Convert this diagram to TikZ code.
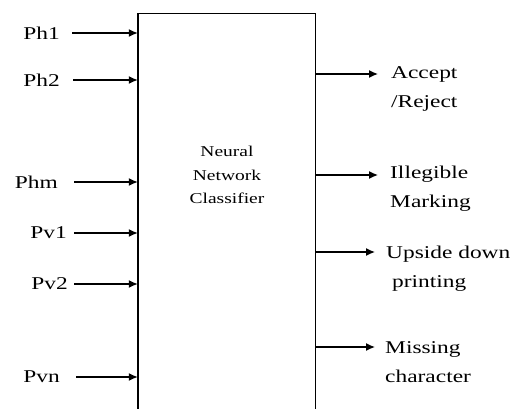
\documentclass[tikz,border=0pt]{standalone}
\usepackage{fontspec}
\setmainfont{Liberation Serif}[FakeStretch=1.3]
\usetikzlibrary{arrows.meta}
\begin{document}
\begin{tikzpicture}[x=1pt,y=-1pt,
  lab/.style={inner sep=0pt,font=\fontsize{18}{29}\selectfont},
  outlab/.style={lab,anchor=west,align=left},
  arr/.style={line width=1.3pt,-{Latex[length=9pt,width=8pt]}},
  boxline/.style={line width=1.4pt}]
\useasboundingbox (0,0) rectangle (522,409);
% classifier box (open at the bottom, cut by the picture edge)
\node[minimum width=177pt,minimum height=400pt,inner sep=0pt] (nn) at (226.5,214) {};
\draw[boxline] (nn.south west) -- (nn.north west) -- (nn.north east) -- (nn.south east);
\node[inner sep=0pt,align=center,font=\fontsize{15}{23.5}\selectfont] (nntext) at (227,175) {Neural\\Network\\Classifier};
% inputs
\node[lab,anchor=east] (ph1) at (60,33) {Ph1};
\node[lab,anchor=east] (ph2) at (60,80) {Ph2};
\node[lab,anchor=east] (phm) at (58,182) {Phm};
\node[lab,anchor=east] (pv1) at (67,233) {Pv1};
\node[lab,anchor=east] (pv2) at (68,284) {Pv2};
\node[lab,anchor=east] (pvn) at (60,377) {Pvn};
\draw[arr] (ph1.east) ++(12,0) -- (ph1 -| nn.west);
\draw[arr] (ph2.east) ++(13,0) -- (ph2 -| nn.west);
\draw[arr] (phm.east) ++(16,0) -- (phm -| nn.west);
\draw[arr] (pv1.east) ++(7,0) -- (pv1 -| nn.west);
\draw[arr] (pv2.east) ++(6,0) -- (pv2 -| nn.west);
\draw[arr] (pvn.east) ++(16,0) -- (pvn -| nn.west);
% outputs
\coordinate (o1) at (378,74);
\coordinate (o2) at (378,175);
\coordinate (o3) at (375,252);
\coordinate (o4) at (375,347);
\draw[arr] (o1 -| nn.east) -- (o1);
\draw[arr] (o2 -| nn.east) -- (o2);
\draw[arr] (o3 -| nn.east) -- (o3);
\draw[arr] (o4 -| nn.east) -- (o4);
\node[outlab] (acc) at (391,89) {Accept\\/Reject};
\node[outlab] (ill) at (390,189) {Illegible\\Marking};
\node[outlab] (ups) at (386,269) {Upside down\\\hspace*{6pt}printing};
\node[outlab] (mis) at (385,362) {Missing\\character};
\end{tikzpicture}
\end{document}
